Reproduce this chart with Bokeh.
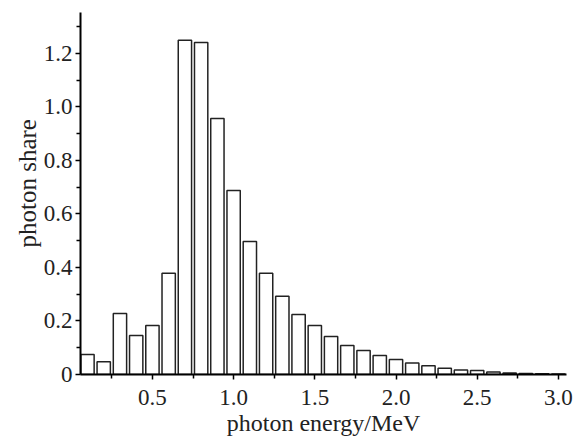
from bokeh.plotting import figure
from bokeh.models import FixedTicker, PrintfTickFormatter, Range1d, Title
from bokeh.embed import file_html
from bokeh.resources import INLINE

energy = [0.1, 0.2, 0.3, 0.4, 0.5, 0.6, 0.7, 0.8, 0.9, 1.0,
          1.1, 1.2, 1.3, 1.4, 1.5, 1.6, 1.7, 1.8, 1.9, 2.0,
          2.1, 2.2, 2.3, 2.4, 2.5, 2.6, 2.7, 2.8, 2.9, 3.0]
share = [0.075, 0.048, 0.228, 0.146, 0.183, 0.378, 1.249, 1.241, 0.957, 0.688,
         0.497, 0.378, 0.292, 0.224, 0.183, 0.142, 0.108, 0.090, 0.071, 0.056,
         0.043, 0.033, 0.023, 0.017, 0.015, 0.009, 0.006, 0.004, 0.003, 0.002]
x_ticks = [0.5, 1.0, 1.5, 2.0, 2.5, 3.0]
x_minor = [0.25, 0.75, 1.25, 1.75, 2.25, 2.75]
y_ticks = [0, 0.2, 0.4, 0.6, 0.8, 1.0, 1.2]
y_minor = [0.1, 0.3, 0.5, 0.7, 0.9, 1.1, 1.3]
x_title = "photon energy/MeV"
y_title = "photon share"

FONT = "Liberation Serif"

p = figure(width=574, height=438, output_backend="svg", toolbar_location=None,
           x_range=Range1d(0.057, 3.05), y_range=Range1d(0, 1.353))
p.min_border_left = 80
p.min_border_right = 8
p.min_border_top = 12
p.min_border_bottom = 64
p.outline_line_color = None
p.xgrid.visible = False
p.ygrid.visible = False
p.background_fill_color = "white"

p.vbar(x=energy, top=share, bottom=0, width=0.082, fill_color="white",
       line_color="#222222", line_width=1.5)

for ax, ticks, minor in ((p.xaxis[0], x_ticks, x_minor), (p.yaxis[0], y_ticks, y_minor)):
    ax.ticker = FixedTicker(ticks=ticks, minor_ticks=minor)
    ax.axis_line_width = 2
    ax.axis_line_color = "black"
    ax.major_tick_line_width = 1.5
    ax.minor_tick_line_width = 1.5
    ax.major_tick_line_color = "black"
    ax.minor_tick_line_color = "black"
    ax.major_tick_out = 5
    ax.major_tick_in = 0
    ax.minor_tick_out = 4
    ax.minor_tick_in = 0
    ax.major_label_text_font = FONT
    ax.major_label_text_font_size = "23px"
    ax.major_label_text_color = "#222222"
    ax.axis_label_text_font = FONT
    ax.axis_label_text_font_size = "24px"
    ax.axis_label_text_font_style = "normal"
    ax.axis_label_text_color = "#222222"

p.xaxis.formatter = PrintfTickFormatter(format="%.1f")
p.yaxis.formatter = PrintfTickFormatter(format="%.1f")
p.yaxis.major_label_overrides = {0: "0"}
p.xaxis.axis_label = x_title
p.xaxis.axis_label_text_line_height = 0.9
p.xaxis.major_label_standoff = 10
p.xaxis.axis_label_standoff = 2
p.yaxis.major_label_standoff = 3

p.add_layout(Title(text=y_title, align="left", offset=127, standoff=0,
                   text_font=FONT, text_font_size="25px", text_font_style="normal",
                   text_color="#222222"), "left")

open("out.html", "w").write(file_html(p, INLINE))
